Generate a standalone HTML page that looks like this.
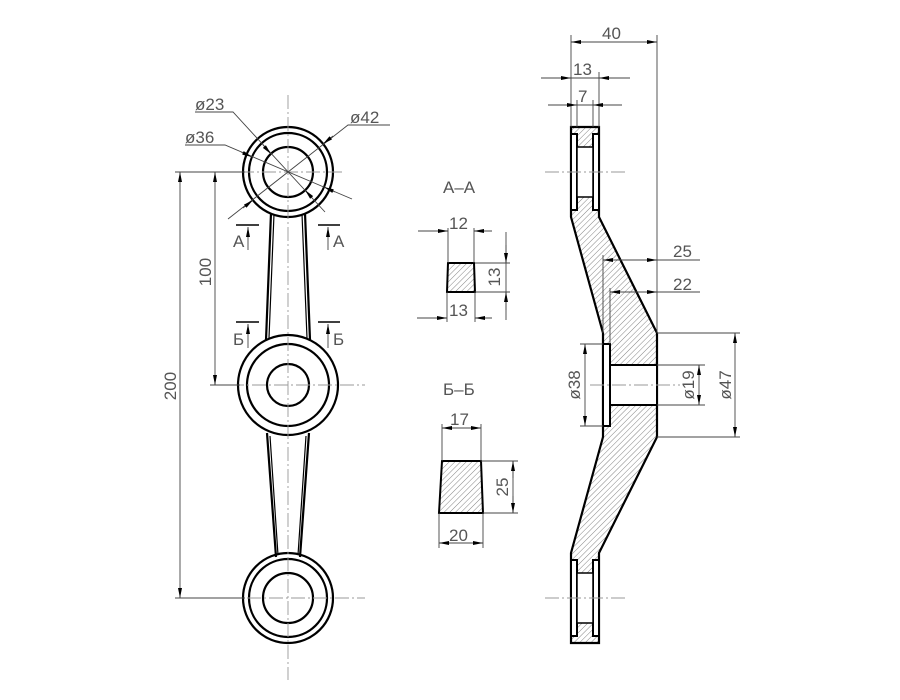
<!DOCTYPE html>
<html><head><meta charset="utf-8"><style>
html,body{margin:0;padding:0;background:#fff}
svg{display:block}
text{font-family:"Liberation Sans","DejaVu Sans",sans-serif;fill:#555;font-size:17px}
.o{stroke:#000;stroke-width:2.2;fill:none}
.t{stroke:#444;stroke-width:0.9;fill:none}
.c{stroke:#999;stroke-width:0.9;stroke-dasharray:14 3 2 3;fill:none}
.w{fill:#fff;stroke:#000;stroke-width:2}
</style></head><body>
<svg width="900" height="700" viewBox="0 0 900 700" xmlns="http://www.w3.org/2000/svg">
<defs>
<pattern id="h" width="4" height="4" patternUnits="userSpaceOnUse" patternTransform="rotate(45)">
<rect width="4" height="4" fill="#fff"/><line x1="0" y1="0" x2="0" y2="4" stroke="#666" stroke-width="0.8"/></pattern>
<marker id="a" viewBox="0 0 10 4" refX="10" refY="2" markerWidth="10" markerHeight="4" orient="auto-start-reverse" markerUnits="userSpaceOnUse"><path d="M0,0L10,2L0,4z" fill="#000"/></marker>
</defs>

<!-- FRONT VIEW -->
<path class="o" d="M271,213 L266,340 M305,213 L310,340 M267,433 L276,557 M309,433 L300,557" />
<path d="M274,214 L269,338 M302,214 L307,338 M270,436 L278,555 M306,436 L298,555" stroke="#000" stroke-width="1.2" fill="none"/>
<circle class="o" cx="288" cy="172" r="45" fill="#fff"/>
<circle class="o" cx="288" cy="172" r="39"/>
<circle class="o" cx="288" cy="172" r="25"/>
<circle class="o" cx="288" cy="385" r="50" fill="#fff"/>
<circle class="o" cx="288" cy="385" r="41"/>
<circle class="o" cx="288" cy="385" r="21"/>
<circle class="o" cx="288" cy="598" r="45" fill="#fff"/>
<circle class="o" cx="288" cy="598" r="39"/>
<circle class="o" cx="288" cy="598" r="25"/>
<line class="c" x1="288" y1="95" x2="288" y2="680"/>
<line class="c" x1="240" y1="172" x2="345" y2="172"/>
<line class="c" x1="230" y1="385" x2="365" y2="385"/>
<line class="c" x1="225" y1="598" x2="365" y2="598"/>
<!-- leaders -->
<path class="t" d="M195,112 L233,112 L325,212"/>
<path class="t" d="M185,145 L225,145 L352,199"/>
<path class="t" d="M390,125 L348,125 L228,219"/>
<line class="t" x1="263" y1="145" x2="271" y2="154" marker-end="url(#a)"/>
<line class="t" x1="313" y1="199" x2="305" y2="190" marker-end="url(#a)"/>
<line class="t" x1="241" y1="152" x2="252" y2="157" marker-end="url(#a)"/>
<line class="t" x1="335" y1="192" x2="324" y2="187" marker-end="url(#a)"/>
<line class="t" x1="333" y1="136" x2="323" y2="144" marker-end="url(#a)"/>
<line class="t" x1="243" y1="208" x2="253" y2="200" marker-end="url(#a)"/>
<text x="195" y="110">ø23</text>
<text x="185" y="143">ø36</text>
<text x="350" y="123">ø42</text>
<!-- section marks -->
<g stroke="#000" stroke-width="1.4">
<line x1="236" y1="225" x2="259" y2="225"/><line x1="318" y1="225" x2="340" y2="225"/>
<line x1="236" y1="322" x2="259" y2="322"/><line x1="318" y1="322" x2="340" y2="322"/>
</g>
<line class="t" x1="248" y1="250" x2="248" y2="227" marker-end="url(#a)"/>
<line class="t" x1="328" y1="250" x2="328" y2="227" marker-end="url(#a)"/>
<line class="t" x1="248" y1="348" x2="248" y2="324" marker-end="url(#a)"/>
<line class="t" x1="328" y1="348" x2="328" y2="324" marker-end="url(#a)"/>
<text x="233" y="247" font-size="14">А</text><text x="333" y="247" font-size="14">А</text>
<text x="233" y="345" font-size="14">Б</text><text x="333" y="345" font-size="14">Б</text>
<!-- 100 / 200 -->
<line class="t" x1="175" y1="172" x2="245" y2="172"/>
<line class="t" x1="210" y1="385" x2="240" y2="385"/>
<line class="t" x1="175" y1="598" x2="245" y2="598"/>
<line class="t" x1="215" y1="172" x2="215" y2="385" marker-start="url(#a)" marker-end="url(#a)"/>
<line class="t" x1="180" y1="172" x2="180" y2="598" marker-start="url(#a)" marker-end="url(#a)"/>
<text transform="translate(211,272) rotate(-90)" text-anchor="middle" font-size="19">100</text>
<text transform="translate(176,386) rotate(-90)" text-anchor="middle" font-size="19">200</text>

<!-- SECTIONS -->
<text x="443" y="193" font-size="14">А–А</text>
<polygon points="448,263 474,263 475,292 447,292" fill="url(#h)" stroke="#000" stroke-width="2"/>
<g class="t">
<line x1="448" y1="263" x2="448" y2="228"/><line x1="474" y1="263" x2="474" y2="228"/>
<line x1="447" y1="292" x2="447" y2="322"/><line x1="475" y1="292" x2="475" y2="322"/>
<line x1="475" y1="263" x2="510" y2="263"/><line x1="475" y1="292" x2="510" y2="292"/>
<line x1="418" y1="231" x2="448" y2="231"/><line x1="474" y1="231" x2="487" y2="231"/>
<line x1="417" y1="318" x2="447" y2="318"/><line x1="475" y1="318" x2="490" y2="318"/>
<line x1="506" y1="232" x2="506" y2="320"/>
</g>
<line class="t" x1="430" y1="231" x2="448" y2="231" marker-end="url(#a)"/>
<line class="t" x1="492" y1="231" x2="474" y2="231" marker-end="url(#a)"/>
<line class="t" x1="430" y1="318" x2="447" y2="318" marker-end="url(#a)"/>
<line class="t" x1="492" y1="318" x2="475" y2="318" marker-end="url(#a)"/>
<line class="t" x1="506" y1="245" x2="506" y2="263" marker-end="url(#a)"/>
<line class="t" x1="506" y1="310" x2="506" y2="292" marker-end="url(#a)"/>
<text x="449" y="229" font-size="19">12</text>
<text x="449" y="316" font-size="19">13</text>
<text transform="translate(500,277) rotate(-90)" text-anchor="middle" font-size="19">13</text>

<text x="443" y="395" font-size="14">Б–Б</text>
<polygon points="442,461 481,461 483,513 439,513" fill="url(#h)" stroke="#000" stroke-width="2"/>
<g class="t">
<line x1="442" y1="461" x2="442" y2="424"/><line x1="481" y1="461" x2="481" y2="424"/>
<line x1="439" y1="513" x2="439" y2="548"/><line x1="483" y1="513" x2="483" y2="548"/>
<line x1="481" y1="461" x2="518" y2="461"/><line x1="483" y1="513" x2="518" y2="513"/>
<line x1="442" y1="428" x2="481" y2="428"/>
<line x1="439" y1="543" x2="483" y2="543"/>
<line x1="513" y1="461" x2="513" y2="513"/>
</g>
<line class="t" x1="454" y1="428" x2="442" y2="428" marker-end="url(#a)"/>
<line class="t" x1="469" y1="428" x2="481" y2="428" marker-end="url(#a)"/>
<line class="t" x1="452" y1="543" x2="439" y2="543" marker-end="url(#a)"/>
<line class="t" x1="470" y1="543" x2="483" y2="543" marker-end="url(#a)"/>
<line class="t" x1="513" y1="478" x2="513" y2="461" marker-end="url(#a)"/>
<line class="t" x1="513" y1="496" x2="513" y2="513" marker-end="url(#a)"/>
<text x="450" y="425" font-size="19">17</text>
<text x="449" y="541" font-size="19">20</text>
<text transform="translate(508,487) rotate(-90)" text-anchor="middle" font-size="19">25</text>

<!-- SIDE VIEW -->
<polygon points="571,127 599,127 599,217 657,333 657,437 599,553 599,643 571,643 571,553 603,437 603,333 571,217" fill="url(#h)" stroke="#000" stroke-width="2.2"/>
<rect class="w" x="571" y="134" width="6" height="76"/>
<rect class="w" x="593" y="134" width="6" height="76"/>
<rect x="577" y="147" width="16" height="50" fill="#fff" stroke="#000" stroke-width="1.5"/>
<rect class="w" x="571" y="560" width="6" height="76"/>
<rect class="w" x="593" y="560" width="6" height="76"/>
<rect x="577" y="573" width="16" height="50" fill="#fff" stroke="#000" stroke-width="1.5"/>
<rect x="604" y="365" width="53" height="40" fill="#fff" stroke="#000" stroke-width="2"/>
<rect class="w" x="603" y="344" width="7" height="82"/>
<line class="c" x1="545" y1="172" x2="625" y2="172"/>
<line class="c" x1="545" y1="598" x2="625" y2="598"/>
<line class="c" x1="590" y1="385" x2="680" y2="385"/>
<g class="t">
<line x1="571" y1="127" x2="571" y2="35"/>
<line x1="657" y1="35" x2="657" y2="333"/>
<line x1="599" y1="127" x2="599" y2="72"/>
<line x1="577" y1="127" x2="577" y2="100"/>
<line x1="593" y1="127" x2="593" y2="100"/>
<line x1="541" y1="78" x2="630" y2="78"/>
<line x1="548" y1="105" x2="622" y2="105"/>
<line x1="603" y1="333" x2="603" y2="255"/>
<line x1="610" y1="344" x2="610" y2="288"/>
<line x1="603" y1="260" x2="700" y2="260"/>
<line x1="610" y1="292" x2="700" y2="292"/>
<line x1="657" y1="333" x2="740" y2="333"/>
<line x1="657" y1="437" x2="740" y2="437"/>
<line x1="657" y1="365" x2="705" y2="365"/>
<line x1="657" y1="405" x2="705" y2="405"/>
<line x1="603" y1="344" x2="580" y2="344"/>
<line x1="603" y1="426" x2="580" y2="426"/>
</g>
<line class="t" x1="571" y1="42" x2="657" y2="42" marker-start="url(#a)" marker-end="url(#a)"/>
<line class="t" x1="555" y1="78" x2="571" y2="78" marker-end="url(#a)"/>
<line class="t" x1="615" y1="78" x2="599" y2="78" marker-end="url(#a)"/>
<line class="t" x1="562" y1="105" x2="577" y2="105" marker-end="url(#a)"/>
<line class="t" x1="608" y1="105" x2="593" y2="105" marker-end="url(#a)"/>
<line class="t" x1="603" y1="260" x2="657" y2="260" marker-start="url(#a)" marker-end="url(#a)"/>
<line class="t" x1="610" y1="292" x2="657" y2="292" marker-start="url(#a)" marker-end="url(#a)"/>
<line class="t" x1="585" y1="344" x2="585" y2="426" marker-start="url(#a)" marker-end="url(#a)"/>
<line class="t" x1="699" y1="365" x2="699" y2="405" marker-start="url(#a)" marker-end="url(#a)"/>
<line class="t" x1="735" y1="333" x2="735" y2="437" marker-start="url(#a)" marker-end="url(#a)"/>
<text x="602" y="39" font-size="19">40</text>
<text x="573" y="75" font-size="19">13</text>
<text x="578" y="102" font-size="19">7</text>
<text x="673" y="257" font-size="19">25</text>
<text x="673" y="290" font-size="19">22</text>
<text transform="translate(580,385) rotate(-90)" text-anchor="middle" font-size="19">ø38</text>
<text transform="translate(694,385) rotate(-90)" text-anchor="middle" font-size="19">ø19</text>
<text transform="translate(731,385) rotate(-90)" text-anchor="middle" font-size="19">ø47</text>
</svg>
</body></html>
